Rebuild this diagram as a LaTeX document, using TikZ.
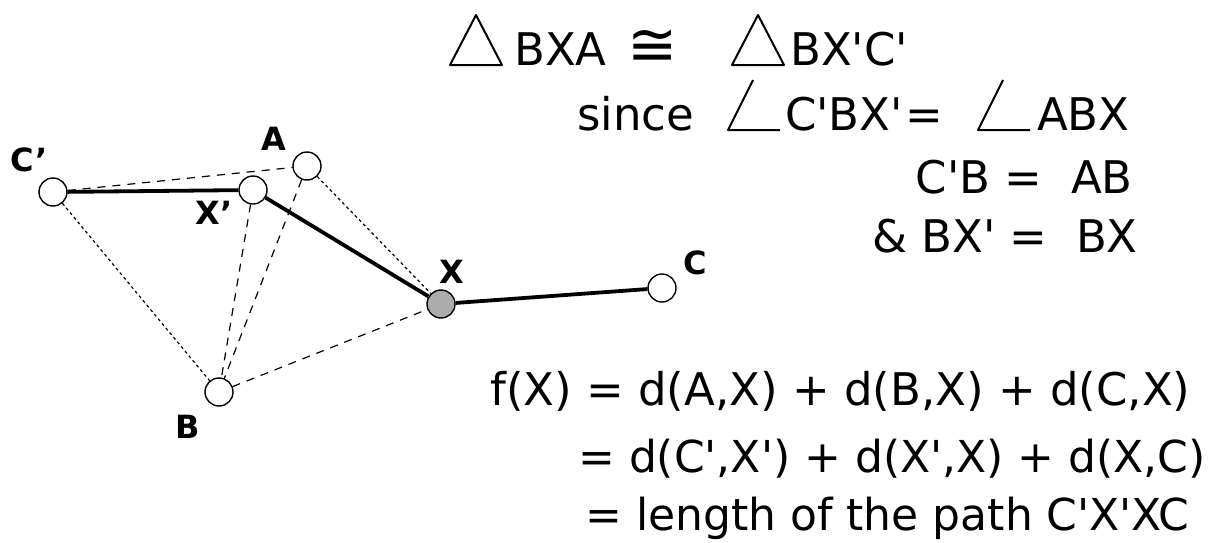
\documentclass[tikz,border=0pt]{standalone}
\usepackage{fontspec}
\setmainfont{DejaVu Sans}
\usetikzlibrary{positioning}
\newcommand{\eqsize}{\fontsize{45}{52}\selectfont}
\newcommand{\eqsmall}{\fontsize{44}{52}\selectfont}
\newcommand{\lblsize}{\fontsize{32}{36}\selectfont\bfseries}
\newcommand{\cgsize}{\fontsize{60}{60}\selectfont}
\newcommand{\pq}{\textquotesingle}

\begin{document}
\begin{tikzpicture}[x=1pt,y=-1pt,
  pt/.style={circle,draw,fill=white,minimum size=28pt,inner sep=0pt,line width=1.4pt},
  ptX/.style={pt,fill=gray!65},
  lbl/.style={inner sep=0pt,font=\lblsize},
  eq/.style={inner sep=0pt,font=\eqsize,anchor=base west},
  sym/.style={line width=2pt,line join=round},
  thickpath/.style={line width=3.8pt},
  finedash/.style={line width=1.2pt,dash pattern=on 3pt off 3pt},
  longdash/.style={line width=1.2pt,dash pattern=on 8pt off 7pt}]
  \useasboundingbox (0,0) rectangle (1215,542);
  % Punkte
  \node[pt] (Cp) at (53,192) {};
  \node[pt] (Xp) at (253,190) {};
  \node[pt] (A) at (307,166) {};
  \node[ptX] (X) at (441,304) {};
  \node[pt] (B) at (219,392) {};
  \node[pt] (C) at (662,288) {};
  % Beschriftungen
  \node[lbl] (lCp) at (29,160) {C'};
  \node[lbl] (lA) at (274,139) {A};
  \node[lbl] (lXp) at (214,213) {X'};
  \node[lbl] (lX) at (452,272) {X};
  \node[lbl] (lB) at (188,427) {B};
  \node[lbl] (lC) at (695,263) {C};
  % gestrichelte Hilfslinien
  \draw[longdash] (Cp) -- (A);
  \draw[finedash] (A) -- (X);
  \draw[finedash] (Cp) -- (B);
  \draw[longdash] (Xp) -- (B);
  \draw[longdash] (A) -- (B);
  \draw[longdash] (B) -- (X);
  % Weg C'X'XC
  \draw[thickpath] (Cp) -- (Xp);
  \draw[thickpath] (Xp) -- (X);
  \draw[thickpath] (X) -- (C);
  % Dreiecke und Winkel
  \draw[sym] (450,65) -- (476,15) -- (502,65) -- cycle;
  \draw[sym] (732,65) -- (758,15) -- (784,65) -- cycle;
  \draw[sym] (753,80) -- (728,130) -- (780,130);
  \draw[sym] (1003,80) -- (978,130) -- (1030,130);
  % Text
  \node[eq] (eq1a) at (514,65) {BXA};
  \node[eq,font=\cgsize] (eq1b) at (627,65) {≅};
  \node[eq] (eq1c) at (790,65) {BX\pq C\pq};
  \node[eq] (eq2a) at (577,130) {since};
  \node[eq] (eq2b) at (785,130) {C\pq BX\pq\hspace{2pt}=};
  \node[eq] (eq2c) at (1037,130) {ABX};
  \node[eq,anchor=base east] (eq3) at (1133,193) {C\pq B =\ \ AB};
  \node[eq,anchor=base east] (eq4) at (1138,252) {\&\ BX\pq\ =\ \ BX};
  \node[eq] (eq5) at (490,405) {f(X) = d(A,X) + d(B,X) + d(C,X)};
  \node[eq,font=\eqsmall,anchor=base east] (eq6) at (1206,472) {= d(C\pq,X\pq) + d(X\pq,X) + d(X,C)};
  \node[eq,font=\eqsmall] (eq7) at (585,530) {= length of the path C\pq X\pq XC};
\end{tikzpicture}
\end{document}
